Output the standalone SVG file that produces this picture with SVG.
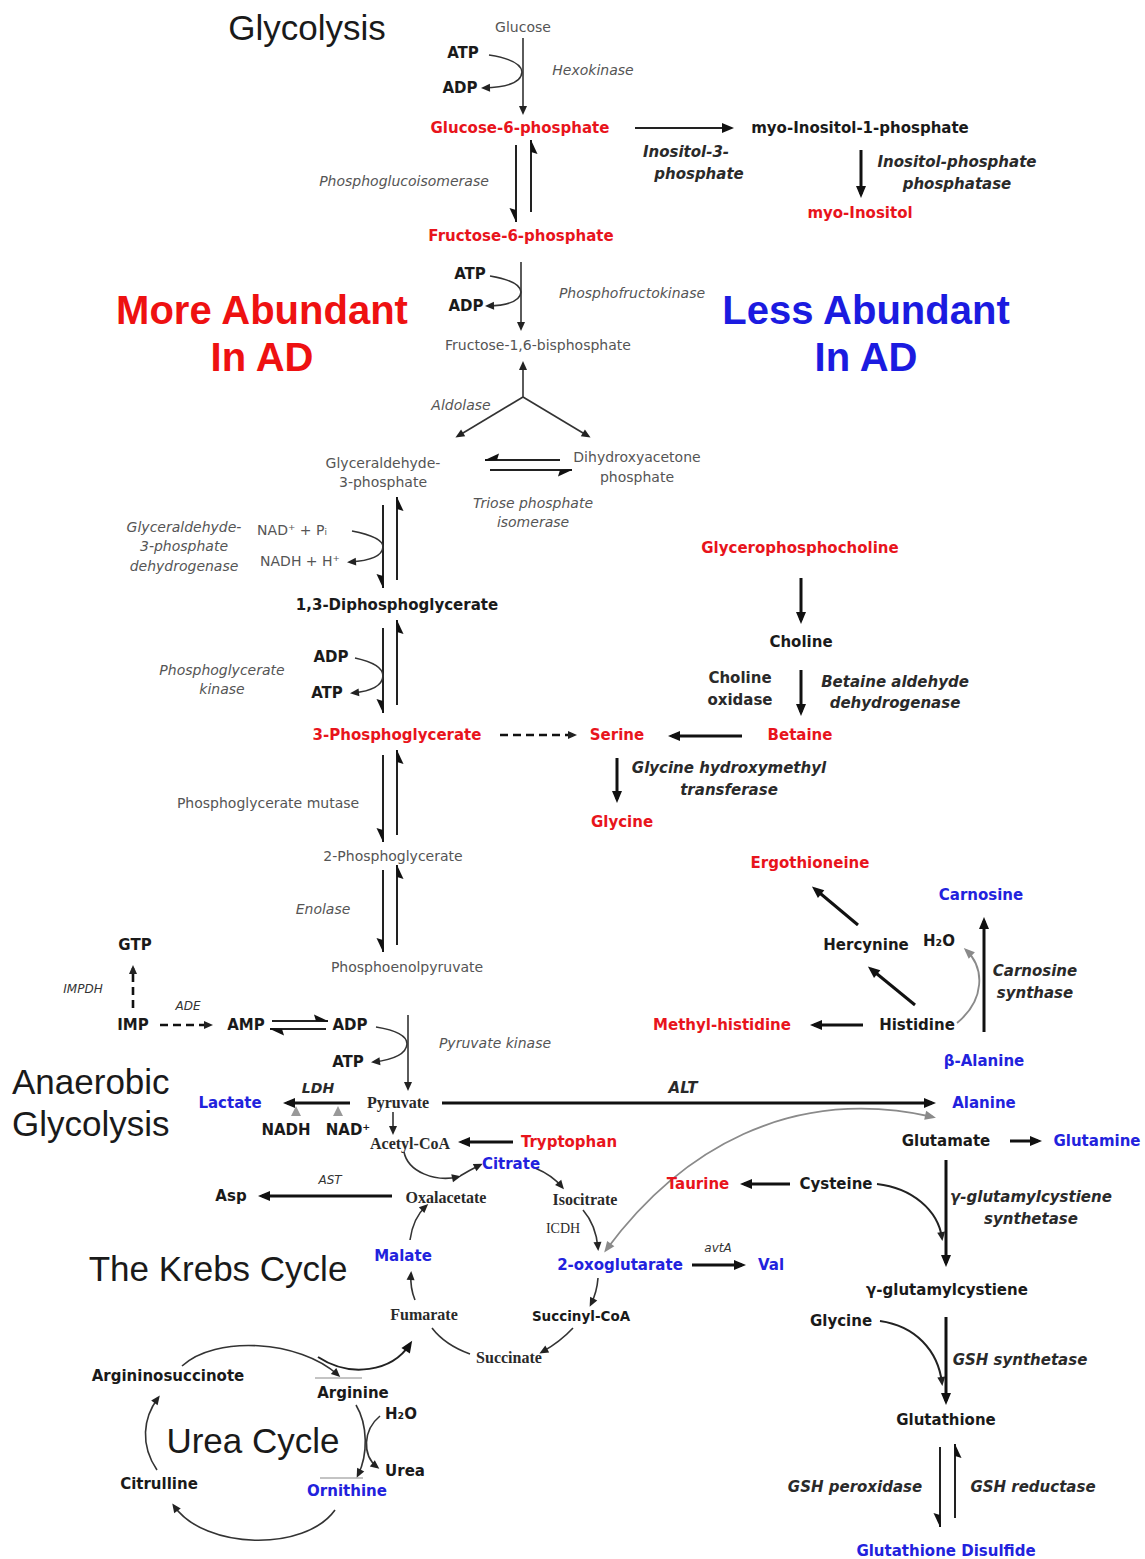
<svg xmlns="http://www.w3.org/2000/svg" width="1145" height="1559" viewBox="0 0 1145 1559">
<style>
text{font-family:"DejaVu Sans",Verdana,sans-serif;dominant-baseline:central;text-anchor:middle}
.b{font-weight:bold;font-size:15px;fill:#1a1a1a}
.r{font-weight:bold;font-size:15px;fill:#e8141c}
.u{font-weight:bold;font-size:15px;fill:#2222dd}
.g{font-size:14px;fill:#555}
.gi{font-size:14px;fill:#555;font-style:italic}
.e{font-size:15px;fill:#2a2a2a;font-weight:bold;font-style:italic}
.eu{font-size:15px;fill:#2a2a2a;font-weight:bold}
.sm{font-size:12px;fill:#333;font-style:italic}
.t{font-family:"Liberation Sans",Arial,sans-serif;font-size:35px;fill:#1a1a1a}
.big{font-family:"Liberation Sans",Arial,sans-serif;font-size:40px;font-weight:bold}
.sf{font-family:"Liberation Serif","Times New Roman",serif;font-weight:bold;font-size:16px;fill:#2a2a2a}
.k{fill:none;stroke:#111;stroke-width:3}
.m{fill:none;stroke:#222;stroke-width:2}
.n{fill:none;stroke:#333;stroke-width:1.6}
.gr{fill:none;stroke:#8a8a8a;stroke-width:1.8}
.d{fill:none;stroke:#111;stroke-width:2.6;stroke-dasharray:8 5}
</style>
<defs>
<marker id="a" viewBox="0 0 12 10" refX="8" refY="5" markerWidth="12" markerHeight="10" markerUnits="userSpaceOnUse" orient="auto" overflow="visible"><path d="M0,0 L12,5 L0,10 Z" fill="#111"/></marker>
<marker id="s" viewBox="0 0 9 8" refX="6" refY="4" markerWidth="9" markerHeight="8" markerUnits="userSpaceOnUse" orient="auto" overflow="visible"><path d="M0,0 L9,4 L0,8 Z" fill="#222"/></marker>
<marker id="gm" viewBox="0 0 11 9" refX="8" refY="4.5" markerWidth="11" markerHeight="9" markerUnits="userSpaceOnUse" orient="auto-start-reverse" overflow="visible"><path d="M0,0 L11,4.5 L0,9 Z" fill="#8a8a8a"/></marker>
<marker id="h1" viewBox="0 -1 14 8" refX="14" refY="0" markerWidth="14" markerHeight="8" markerUnits="userSpaceOnUse" orient="auto" overflow="visible"><path d="M14,0 L0,6.5 L2,0 L14,-1 Z" fill="#111"/></marker>
<marker id="h2" viewBox="0 -7 14 8" refX="14" refY="0" markerWidth="14" markerHeight="8" markerUnits="userSpaceOnUse" orient="auto" overflow="visible"><path d="M14,0 L0,-6.5 L2,0 L14,1 Z" fill="#111"/></marker>
</defs>

<g id="titles">
<text class="t" x="307" y="27">Glycolysis</text>
<text class="t" x="12" y="1081" style="text-anchor:start">Anaerobic</text>
<text class="t" x="12" y="1123" style="text-anchor:start">Glycolysis</text>
<text class="t" x="218" y="1268">The Krebs Cycle</text>
<text class="t" x="253" y="1440">Urea Cycle</text>
<text class="big" x="262" y="310" fill="#ee1111">More Abundant</text>
<text class="big" x="262" y="357" fill="#ee1111">In AD</text>
<text class="big" x="866" y="310" fill="#1b1be0">Less Abundant</text>
<text class="big" x="866" y="357" fill="#1b1be0">In AD</text>
</g>

<g id="connectors">
<line class="n" x1="523" y1="38" x2="523" y2="112" marker-end="url(#s)"/>
<path class="n" d="M489,55 Q521,60 522,72 Q521,87 484,88" marker-end="url(#s)"/>
<line class="m" x1="635" y1="128" x2="730" y2="128" marker-end="url(#a)"/>
<line class="k" x1="861" y1="150" x2="861" y2="194" marker-end="url(#a)"/>
<line class="m" x1="516" y1="145" x2="516" y2="222" marker-end="url(#h1)"/>
<line class="m" x1="531" y1="212" x2="531" y2="140" marker-end="url(#h1)"/>
<line class="n" x1="521" y1="262" x2="521" y2="328" marker-end="url(#s)"/>
<path class="n" d="M490,276 Q520,281 521,292 Q520,305 488,306" marker-end="url(#s)"/>
<line class="n" x1="523" y1="397" x2="523" y2="364" marker-end="url(#s)"/>
<line class="n" x1="523" y1="397" x2="458" y2="436" marker-end="url(#s)"/>
<line class="n" x1="523" y1="397" x2="588" y2="436" marker-end="url(#s)"/>
<line class="m" x1="560" y1="460" x2="485" y2="460" marker-end="url(#h1)"/>
<line class="m" x1="490" y1="470" x2="572" y2="470" marker-end="url(#h1)"/>
<line class="m" x1="383" y1="505" x2="383" y2="588" marker-end="url(#h1)"/>
<line class="m" x1="397" y1="580" x2="397" y2="497" marker-end="url(#h1)"/>
<path class="n" d="M352,531 Q383,537 383,547 Q382,560 350,562" marker-end="url(#s)"/>
<line class="m" x1="383" y1="628" x2="383" y2="713" marker-end="url(#h1)"/>
<line class="m" x1="397" y1="705" x2="397" y2="620" marker-end="url(#h1)"/>
<path class="n" d="M355,658 Q383,664 383,676 Q382,690 353,693" marker-end="url(#s)"/>
<line class="m" x1="383" y1="755" x2="383" y2="842" marker-end="url(#h1)"/>
<line class="m" x1="397" y1="835" x2="397" y2="750" marker-end="url(#h1)"/>
<line class="m" x1="383" y1="870" x2="383" y2="952" marker-end="url(#h1)"/>
<line class="m" x1="397" y1="945" x2="397" y2="865" marker-end="url(#h1)"/>
<line class="d" x1="500" y1="735" x2="574" y2="735" marker-end="url(#s)"/>
<line class="k" x1="742" y1="736" x2="672" y2="736" marker-end="url(#a)"/>
<line class="k" x1="801" y1="578" x2="801" y2="620" marker-end="url(#a)"/>
<line class="k" x1="801" y1="670" x2="801" y2="712" marker-end="url(#a)"/>
<line class="k" x1="617" y1="758" x2="617" y2="799" marker-end="url(#a)"/>
<line class="d" x1="133" y1="1008" x2="133" y2="968" stroke-dasharray="6 4" marker-end="url(#s)"/>
<line class="d" x1="160" y1="1025" x2="210" y2="1025" stroke-dasharray="6 4" marker-end="url(#s)"/>
<line class="m" x1="272" y1="1021" x2="328" y2="1021" marker-end="url(#h2)"/>
<line class="m" x1="326" y1="1029" x2="270" y2="1029" marker-end="url(#h2)"/>
<line class="n" x1="408" y1="1015" x2="408" y2="1088" marker-end="url(#s)"/>
<path class="n" d="M376,1027 Q407,1032 407,1044 Q406,1058 374,1062" marker-end="url(#s)"/>
<line class="k" x1="350" y1="1103" x2="287" y2="1103" marker-end="url(#a)"/>
<path d="M291,1116 L296,1106 L301,1116 Z M333,1116 L338,1106 L343,1116 Z" fill="#999"/>
<line class="k" x1="442" y1="1103" x2="932" y2="1103" marker-end="url(#a)"/>
<path class="gr" d="M606,1250 C680,1150 790,1085 933,1117" marker-start="url(#gm)" marker-end="url(#gm)"/>
<line class="n" x1="393" y1="1112" x2="393" y2="1132" marker-end="url(#s)"/>
<line class="k" x1="513" y1="1142" x2="462" y2="1142" marker-end="url(#a)"/>
<path class="n" d="M404,1152 C408,1172 435,1182 458,1177" marker-end="url(#s)"/>
<path class="n" d="M460,1176 Q470,1170 480,1165" marker-end="url(#s)"/>
<path class="n" d="M535,1168 Q552,1175 562,1187" marker-end="url(#s)"/>
<line class="k" x1="392" y1="1196" x2="262" y2="1196" marker-end="url(#a)"/>
<path class="n" d="M583,1210 Q596,1225 598,1248" marker-end="url(#s)"/>
<line class="k" x1="692" y1="1265" x2="742" y2="1265" marker-end="url(#a)"/>
<path class="n" d="M598,1278 Q597,1292 591,1304" marker-end="url(#s)"/>
<path class="n" d="M573,1328 Q560,1342 542,1352" marker-end="url(#s)"/>
<path class="n" d="M470,1354 Q445,1345 432,1328"/>
<path class="n" d="M415,1300 Q410,1288 411,1274" marker-end="url(#s)"/>
<path class="n" d="M410,1240 Q413,1218 426,1206" marker-end="url(#s)"/>
<path class="n" d="M182,1366 C215,1335 300,1340 338,1375" marker-end="url(#s)"/>
<path class="m" d="M318,1357 C350,1378 392,1372 410,1344" marker-end="url(#a)"/>
<line stroke="#888" stroke-width="1" x1="315" y1="1378" x2="362" y2="1378"/>
<path class="n" d="M356,1405 C368,1425 368,1455 358,1475" marker-end="url(#s)"/>
<path class="n" d="M380,1416 C363,1430 362,1455 377,1467" marker-end="url(#s)"/>
<line stroke="#888" stroke-width="1" x1="320" y1="1478" x2="363" y2="1478"/>
<path class="n" d="M335,1510 C305,1552 205,1550 174,1506" marker-end="url(#s)"/>
<path class="n" d="M157,1470 C140,1445 143,1418 158,1398" marker-end="url(#s)"/>
<line class="k" x1="858" y1="925" x2="815" y2="889" marker-end="url(#a)"/>
<line class="k" x1="915" y1="1005" x2="871" y2="969" marker-end="url(#a)"/>
<line class="k" x1="863" y1="1025" x2="814" y2="1025" marker-end="url(#a)"/>
<line class="k" x1="984" y1="1032" x2="984" y2="921" marker-end="url(#a)"/>
<path class="gr" d="M957,1023 C985,1000 985,968 966,950" marker-end="url(#gm)"/>
<line class="k" x1="1010" y1="1141" x2="1038" y2="1141" marker-end="url(#a)"/>
<line class="k" x1="946" y1="1160" x2="946" y2="1263" marker-end="url(#a)"/>
<line class="k" x1="790" y1="1184" x2="744" y2="1184" marker-end="url(#a)"/>
<path class="m" d="M877,1184 C912,1188 938,1210 942,1238" marker-end="url(#s)"/>
<line class="k" x1="946" y1="1317" x2="946" y2="1401" marker-end="url(#a)"/>
<path class="m" d="M880,1321 C915,1326 938,1350 942,1383" marker-end="url(#s)"/>
<line class="m" x1="940" y1="1447" x2="940" y2="1527" marker-end="url(#h1)"/>
<line class="m" x1="955" y1="1518" x2="955" y2="1444" marker-end="url(#h1)"/>
</g>

<g id="n-glucose"><text class="g" x="523" y="27">Glucose</text></g>
<g id="c-atp1"><text class="b" x="463" y="53">ATP</text><text class="b" x="460" y="88">ADP</text></g>
<g id="enz-hexokinase"><text class="gi" x="593" y="70">Hexokinase</text></g>
<g id="n-g6p"><text class="r" x="520" y="128">Glucose-6-phosphate</text></g>
<g id="enz-ino3p"><text class="e" x="686" y="152">Inositol-3-</text><text class="e" x="699" y="174">phosphate</text></g>
<g id="n-mi1p"><text class="b" x="860" y="128">myo-Inositol-1-phosphate</text></g>
<g id="enz-ipp"><text class="e" x="957" y="162">Inositol-phosphate</text><text class="e" x="957" y="184">phosphatase</text></g>
<g id="n-myoinositol"><text class="r" x="860" y="213">myo-Inositol</text></g>
<g id="enz-pgi"><text class="gi" x="404" y="181">Phosphoglucoisomerase</text></g>
<g id="n-f6p"><text class="r" x="521" y="236">Fructose-6-phosphate</text></g>
<g id="c-atp2"><text class="b" x="470" y="274">ATP</text><text class="b" x="466" y="306">ADP</text></g>
<g id="enz-pfk"><text class="gi" x="632" y="293">Phosphofructokinase</text></g>
<g id="n-f16bp"><text class="g" x="538" y="345">Fructose-1,6-bisphosphate</text></g>
<g id="enz-aldolase"><text class="gi" x="461" y="405">Aldolase</text></g>
<g id="n-g3p"><text class="g" x="383" y="463">Glyceraldehyde-</text><text class="g" x="383" y="482">3-phosphate</text></g>
<g id="n-dhap"><text class="g" x="637" y="457">Dihydroxyacetone</text><text class="g" x="637" y="477">phosphate</text></g>
<g id="enz-tpi"><text class="gi" x="533" y="503">Triose phosphate</text><text class="gi" x="533" y="522">isomerase</text></g>
<g id="c-nad1"><text class="g" x="292" y="530">NAD⁺ + Pᵢ</text><text class="g" x="300" y="561">NADH + H⁺</text></g>
<g id="enz-gapdh"><text class="gi" x="184" y="527">Glyceraldehyde-</text><text class="gi" x="184" y="546">3-phosphate</text><text class="gi" x="184" y="566">dehydrogenase</text></g>
<g id="n-13dpg"><text class="b" x="397" y="605">1,3-Diphosphoglycerate</text></g>
<g id="c-atp3"><text class="b" x="331" y="657">ADP</text><text class="b" x="327" y="693">ATP</text></g>
<g id="enz-pgk"><text class="gi" x="222" y="670">Phosphoglycerate</text><text class="gi" x="222" y="689">kinase</text></g>
<g id="n-3pg"><text class="r" x="397" y="735">3-Phosphoglycerate</text></g>
<g id="n-serine"><text class="r" x="617" y="735">Serine</text></g>
<g id="n-betaine"><text class="r" x="800" y="735">Betaine</text></g>
<g id="n-gpc"><text class="r" x="800" y="548">Glycerophosphocholine</text></g>
<g id="n-choline"><text class="b" x="801" y="642">Choline</text></g>
<g id="enz-cho"><text class="eu" x="740" y="678">Choline</text><text class="eu" x="740" y="700">oxidase</text></g>
<g id="enz-badh"><text class="e" x="895" y="682">Betaine aldehyde</text><text class="e" x="895" y="703">dehydrogenase</text></g>
<g id="enz-ghmt"><text class="e" x="729" y="768">Glycine hydroxymethyl</text><text class="e" x="729" y="790">transferase</text></g>
<g id="n-glycine1"><text class="r" x="622" y="822">Glycine</text></g>
<g id="enz-pgm"><text class="g" x="268" y="803">Phosphoglycerate mutase</text></g>
<g id="n-2pg"><text class="g" x="393" y="856">2-Phosphoglycerate</text></g>
<g id="enz-enolase"><text class="gi" x="323" y="909">Enolase</text></g>
<g id="n-pep"><text class="g" x="407" y="967">Phosphoenolpyruvate</text></g>
<g id="n-gtp"><text class="b" x="135" y="945">GTP</text></g>
<g id="enz-impdh"><text class="sm" x="83" y="989">IMPDH</text></g>
<g id="n-imp"><text class="b" x="133" y="1025">IMP</text></g>
<g id="enz-ade"><text class="sm" x="188" y="1006">ADE</text></g>
<g id="n-amp"><text class="b" x="246" y="1025">AMP</text></g>
<g id="n-adp"><text class="b" x="350" y="1025">ADP</text></g>
<g id="n-atp4"><text class="b" x="348" y="1062">ATP</text></g>
<g id="enz-pk"><text class="gi" x="495" y="1043">Pyruvate kinase</text></g>
<g id="n-pyruvate"><text class="sf" x="398" y="1102">Pyruvate</text></g>
<g id="n-lactate"><text class="u" x="230" y="1103">Lactate</text></g>
<g id="enz-ldh"><text class="e" x="318" y="1088" style="font-size:14px">LDH</text></g>
<g id="c-nadh"><text class="b" x="286" y="1130">NADH</text><text class="b" x="348" y="1130">NAD⁺</text></g>
<g id="enz-alt"><text class="e" x="683" y="1088">ALT</text></g>
<g id="n-alanine"><text class="u" x="984" y="1103">Alanine</text></g>
<g id="n-acetylcoa"><text class="sf" x="410" y="1143">Acetyl-CoA</text></g>
<g id="n-tryptophan"><text class="r" x="569" y="1142">Tryptophan</text></g>
<g id="n-citrate"><text class="u" x="511" y="1164">Citrate</text></g>
<g id="n-oxalacetate"><text class="sf" x="446" y="1197">Oxalacetate</text></g>
<g id="n-isocitrate"><text class="sf" x="585" y="1199">Isocitrate</text></g>
<g id="n-asp"><text class="b" x="231" y="1196">Asp</text></g>
<g id="enz-ast"><text class="sm" x="330" y="1180">AST</text></g>
<g id="enz-icdh"><text class="sf" x="563" y="1228" style="font-size:14px;font-weight:normal">ICDH</text></g>
<g id="n-2og"><text class="u" x="620" y="1265">2-oxoglutarate</text></g>
<g id="enz-avta"><text class="sm" x="718" y="1248">avtA</text></g>
<g id="n-val"><text class="u" x="771" y="1265">Val</text></g>
<g id="n-succinylcoa"><text class="b" x="581" y="1316" style="font-size:13.5px">Succinyl-CoA</text></g>
<g id="n-succinate"><text class="sf" x="509" y="1357">Succinate</text></g>
<g id="n-fumarate"><text class="sf" x="424" y="1314">Fumarate</text></g>
<g id="n-malate"><text class="u" x="403" y="1256">Malate</text></g>
<g id="n-argsucc"><text class="b" x="168" y="1376">Argininosuccinote</text></g>
<g id="n-arginine"><text class="b" x="353" y="1393">Arginine</text></g>
<g id="n-h2o1"><text class="b" x="401" y="1414">H₂O</text></g>
<g id="n-urea"><text class="b" x="405" y="1471">Urea</text></g>
<g id="n-ornithine"><text class="u" x="347" y="1491">Ornithine</text></g>
<g id="n-citrulline"><text class="b" x="159" y="1484">Citrulline</text></g>
<g id="n-ergothioneine"><text class="r" x="810" y="863">Ergothioneine</text></g>
<g id="n-carnosine"><text class="u" x="981" y="895">Carnosine</text></g>
<g id="n-hercynine"><text class="b" x="866" y="945">Hercynine</text></g>
<g id="n-h2o2"><text class="b" x="939" y="941">H₂O</text></g>
<g id="n-histidine"><text class="b" x="917" y="1025">Histidine</text></g>
<g id="n-methylhis"><text class="r" x="722" y="1025">Methyl-histidine</text></g>
<g id="enz-cs"><text class="e" x="1035" y="971">Carnosine</text><text class="e" x="1035" y="993">synthase</text></g>
<g id="n-balanine"><text class="u" x="984" y="1061">β-Alanine</text></g>
<g id="n-glutamate"><text class="b" x="946" y="1141">Glutamate</text></g>
<g id="n-glutamine"><text class="u" x="1097" y="1141">Glutamine</text></g>
<g id="n-cysteine"><text class="b" x="836" y="1184">Cysteine</text></g>
<g id="n-taurine"><text class="r" x="698" y="1184">Taurine</text></g>
<g id="enz-gcs"><text class="e" x="1031" y="1197">γ-glutamylcystiene</text><text class="e" x="1031" y="1219">synthetase</text></g>
<g id="n-ggc"><text class="b" x="947" y="1290">γ-glutamylcystiene</text></g>
<g id="n-glycine2"><text class="b" x="841" y="1321">Glycine</text></g>
<g id="enz-gshs"><text class="e" x="1020" y="1360">GSH synthetase</text></g>
<g id="n-gsh"><text class="b" x="946" y="1420">Glutathione</text></g>
<g id="enz-gpx"><text class="e" x="855" y="1487">GSH peroxidase</text></g>
<g id="enz-gr"><text class="e" x="1033" y="1487">GSH reductase</text></g>
<g id="n-gssg"><text class="u" x="946" y="1551">Glutathione Disulfide</text></g>
</svg>
